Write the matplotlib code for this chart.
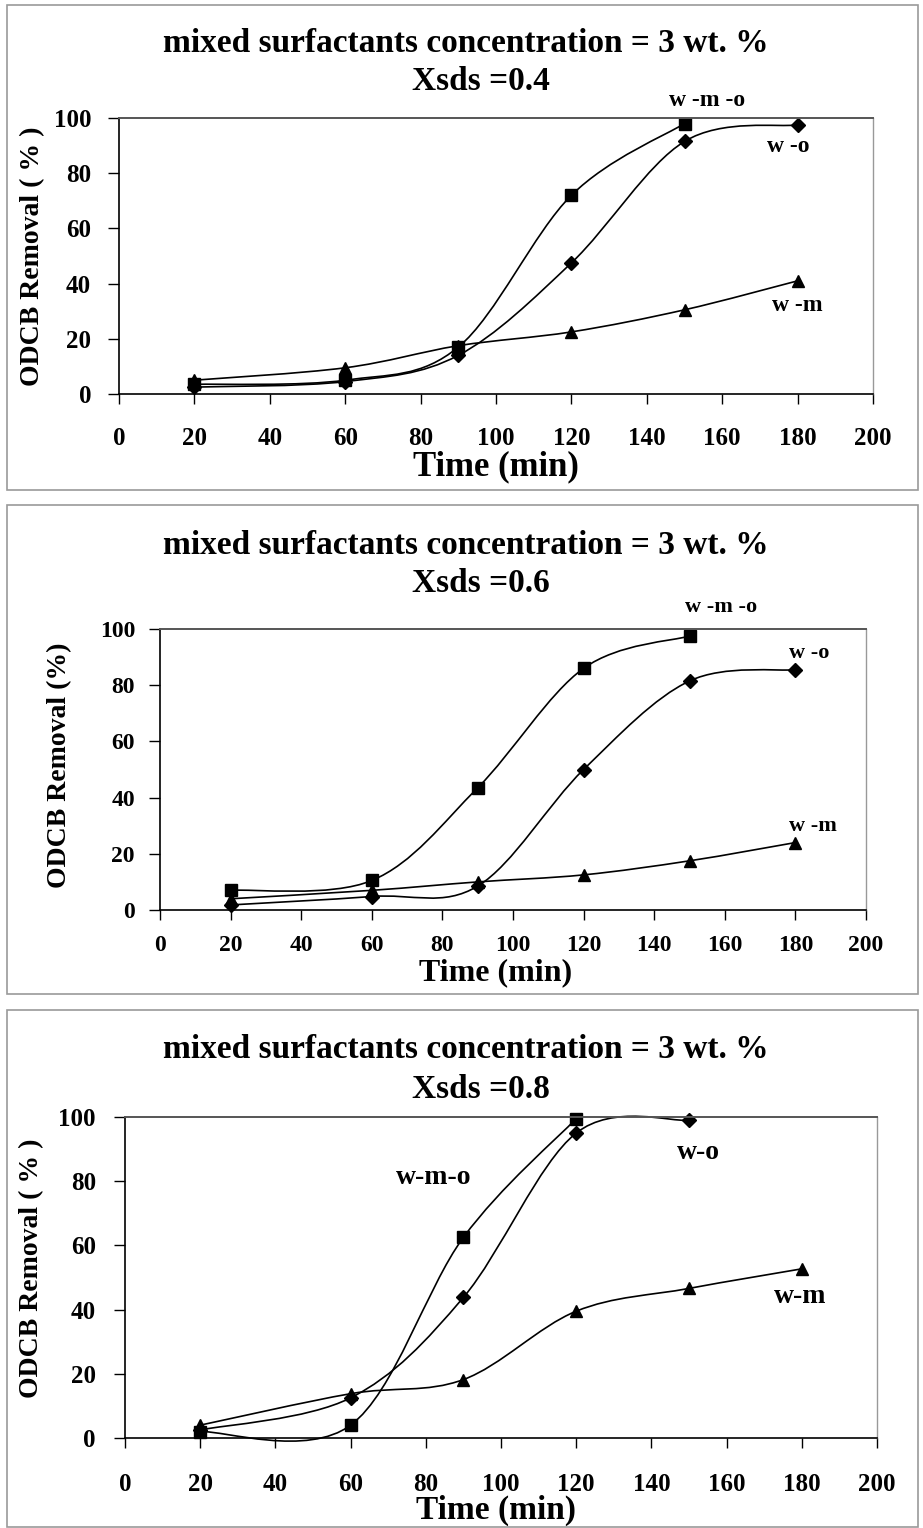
import numpy as np
import matplotlib
matplotlib.use("Agg")
import matplotlib.pyplot as plt
from matplotlib.path import Path
from matplotlib.patches import PathPatch, Rectangle

W, H = 923, 1528

plt.rcParams["font.family"] = ["Liberation Serif", "DejaVu Serif"]
plt.rcParams["font.weight"] = "bold"

title_line = "mixed surfactants concentration = 3 wt. %"
xsds_labels = ["Xsds =0.4", "Xsds =0.6", "Xsds =0.8"]
x_ticks = [0, 20, 40, 60, 80, 100, 120, 140, 160, 180, 200]
y_ticks = [0, 20, 40, 60, 80, 100]

# Xsds = 0.4
p1_wmo_t = [20, 60, 90, 120, 150]
p1_wmo = [3.5, 5, 17, 72, 98]
p1_wo_t = [20, 60, 90, 120, 150, 180]
p1_wo = [2.5, 4.5, 14, 47.5, 91.5, 97.5]
p1_wm_t = [20, 60, 90, 120, 150, 180]
p1_wm = [5, 9.5, 17.5, 22.5, 30.5, 41]

# Xsds = 0.6
p2_wmo_t = [20, 60, 90, 120, 150]
p2_wmo = [7, 10.5, 43.5, 86, 97.5]
p2_wo_t = [20, 60, 90, 120, 150, 180]
p2_wo = [1.8, 4.8, 8.5, 50, 81.5, 85.5]
p2_wm_t = [20, 60, 90, 120, 150, 180]
p2_wm = [4, 7, 10, 12.5, 17.5, 24]

# Xsds = 0.8
p3_wmo_t = [20, 60, 90, 120]
p3_wmo = [2, 4, 62.5, 99.5]
p3_wo_t = [20, 60, 90, 120, 150]
p3_wo = [2.5, 12.5, 43.8, 95, 99]
p3_wm_t = [20, 60, 90, 120, 150, 180]
p3_wm = [4, 13.8, 18.2, 39.5, 46.6, 52.7]


def smooth_path(x, y):
    # excel-like smoothed line, catmull-rom as cubic bezier
    x = np.asarray(x, float)
    y = np.asarray(y, float)
    px = np.concatenate([[x[0]], x, [x[-1]]])
    py = np.concatenate([[y[0]], y, [y[-1]]])
    verts = [(x[0], y[0])]
    codes = [Path.MOVETO]
    for i in range(len(x) - 1):
        c1 = (px[i + 1] + (px[i + 2] - px[i]) / 6, py[i + 1] + (py[i + 2] - py[i]) / 6)
        c2 = (px[i + 2] - (px[i + 3] - px[i + 1]) / 6, py[i + 2] - (py[i + 3] - py[i + 1]) / 6)
        verts += [c1, c2, (px[i + 2], py[i + 2])]
        codes += [Path.CURVE4] * 3
    return Path(verts, codes)


def px_axes(fig, left, top, right, bottom):
    return fig.add_axes([left / W, 1 - bottom / H, (right - left) / W, (bottom - top) / H])


fig = plt.figure(figsize=(W / 100, H / 100), dpi=100)

panels = [
    dict(box=(7, 5, 918, 490), ax=(119, 118, 873, 394), t1=43, t2=82, ylab=(33, 256),
         ylabel="ODCB Removal ( % )", xlab=475, tick=18, xpad=17, ypad=12, xlabsize=25,
         series=[(p1_wmo_t, p1_wmo, "s", 8.5), (p1_wo_t, p1_wo, "D", 7), (p1_wm_t, p1_wm, "^", 8.5)],
         labels=[("w -m -o", 156, 106.5), ("w -o", 177.5, 89.5), ("w -m", 180, 32)], labsize=17),
    dict(box=(7, 505, 918, 994), ax=(160, 629, 866, 910), t1=545, t2=583, ylab=(60, 765),
         ylabel="ODCB Removal (%)", xlab=980, tick=17, xpad=11, ypad=10, xlabsize=23,
         series=[(p2_wmo_t, p2_wmo, "s", 8.5), (p2_wo_t, p2_wo, "D", 7), (p2_wm_t, p2_wm, "^", 8.5)],
         labels=[("w -m -o", 159, 108), ("w -o", 184, 91.5), ("w -m", 185, 30)], labsize=16),
    dict(box=(7, 1010, 918, 1527), ax=(125, 1117, 877, 1438), t1=1050, t2=1090, ylab=(32, 1268),
         ylabel="ODCB Removal ( % )", xlab=1519, tick=18, xpad=18, ypad=13, xlabsize=24,
         series=[(p3_wmo_t, p3_wmo, "s", 8.5), (p3_wo_t, p3_wo, "D", 7), (p3_wm_t, p3_wm, "^", 8.5)],
         labels=[("w-m-o", 82, 81), ("w-o", 152.4, 88.8), ("w-m", 179.5, 44.2)], labsize=20),
]

for k, p in enumerate(panels):
    bl, bt, br, bb = p["box"]
    fig.patches.append(Rectangle((bl / W, 1 - bb / H), (br - bl) / W, (bb - bt) / H,
                                 transform=fig.transFigure, fill=False,
                                 edgecolor="#9a9a9a", linewidth=1.2))
    ax = px_axes(fig, *p["ax"])
    for xs, ys, mk, ms in p["series"]:
        ax.add_patch(PathPatch(smooth_path(xs, ys), fill=False, edgecolor="black",
                               linewidth=1.2, clip_on=False))
        ax.plot(xs, ys, linestyle="none", marker=mk, markersize=ms, color="black", clip_on=False)
    for txt, lx, ly in p["labels"]:
        ax.text(lx, ly, txt, ha="center", va="center", fontsize=p["labsize"],
                fontweight="bold", clip_on=False)

    ax.set_xlim(0, 200)
    ax.set_ylim(0, 100)
    ax.set_xticks(x_ticks)
    ax.set_yticks(y_ticks)
    ax.tick_params(axis="x", direction="out", length=7, width=1, pad=p["xpad"], labelsize=p["tick"])
    ax.tick_params(axis="y", direction="out", length=8, width=1, pad=p["ypad"], labelsize=p["tick"])
    for lab in ax.get_xticklabels() + ax.get_yticklabels():
        lab.set_fontweight("bold")
    ax.spines["left"].set_linewidth(1.2)
    ax.spines["bottom"].set_linewidth(1.2)
    ax.spines["top"].set_color("#555555")
    ax.spines["top"].set_linewidth(1.4)
    ax.spines["right"].set_color("#999999")
    ax.spines["right"].set_linewidth(1.0)

    fig.text(466 / W, 1 - p["t1"] / H, title_line, ha="center", va="center",
             fontsize=24, fontweight="bold")
    fig.text(481 / W, 1 - p["t2"] / H, xsds_labels[k], ha="center", va="center",
             fontsize=24, fontweight="bold")
    fig.text(p["ylab"][0] / W, 1 - p["ylab"][1] / H, p["ylabel"], rotation=90,
             ha="center", va="center", fontsize=20, fontweight="bold")
    fig.text(496 / W, 1 - p["xlab"] / H, "Time (min)", ha="center", va="baseline",
             fontsize=p["xlabsize"], fontweight="bold")

fig.savefig("out.png", dpi=100)
